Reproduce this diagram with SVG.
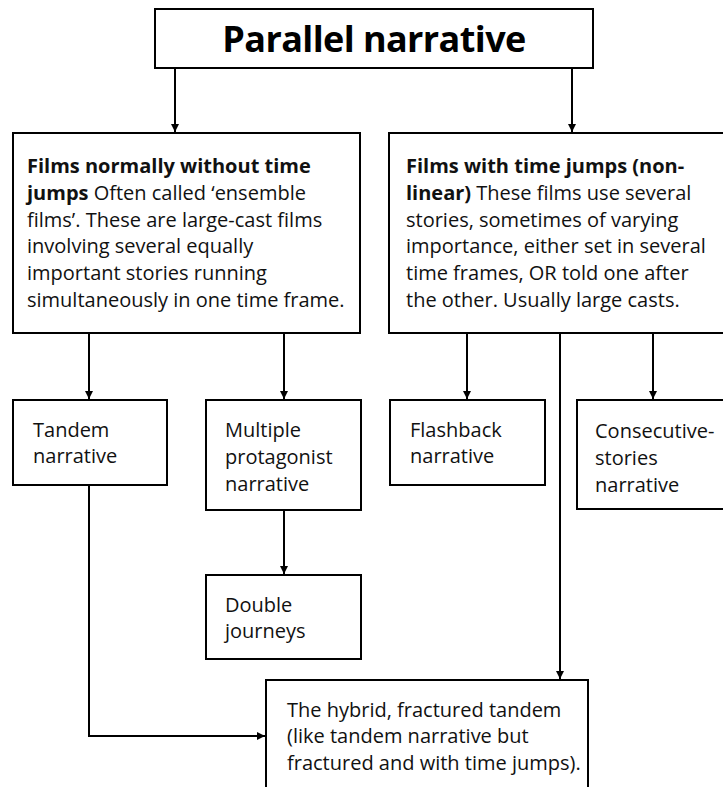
<svg xmlns="http://www.w3.org/2000/svg" width="723" height="787" viewBox="0 0 723 787">
  <defs>
    <marker id="arr" viewBox="0 0 10 10" refX="10" refY="5" markerWidth="4" markerHeight="4" markerUnits="strokeWidth" orient="auto">
      <path d="M0,0 L10,5 L0,10 z" fill="#000"/>
    </marker>
    <style>
      rect { fill: #fff; stroke: #000; stroke-width: 2; }
      .t { font-family: "Open Sans", "Liberation Sans", sans-serif; font-size: 20px; fill: #111; }
      .b { font-weight: bold; }
      .title { font-family: "Open Sans", "Liberation Sans", sans-serif; font-size: 36px; font-weight: bold; letter-spacing: -0.6px; fill: #000; }
      #connectors path { fill: none; stroke: #000; stroke-width: 2; }
      #connectors .a { marker-end: url(#arr); }
    </style>
  </defs>
  <rect x="0" y="0" width="723" height="787" style="fill:#fff;stroke:none"/>

  <g id="connectors">
    <path class="a" d="M175,68 V132"/>
    <path class="a" d="M572,68 V132"/>
    <path class="a" d="M89,333 V399"/>
    <path class="a" d="M284,333 V399"/>
    <path class="a" d="M467,333 V399"/>
    <path class="a" d="M653,333 V399"/>
    <path class="a" d="M560,333 V679"/>
    <path class="a" d="M284,510 V574"/>
    <path class="a" d="M89,485 V736 H265"/>
  </g>

  <g id="title">
    <rect x="155" y="9" width="438" height="59"/>
    <text class="title" x="374" y="52" text-anchor="middle">Parallel narrative</text>
  </g>

  <g id="no-time-jumps">
    <rect x="13" y="133" width="347" height="200"/>
    <text class="t">
      <tspan x="27" y="173" class="b">Films normally without time</tspan>
      <tspan x="27" y="200"><tspan class="b">jumps</tspan> Often called ‘ensemble</tspan>
      <tspan x="27" y="227">films’. These are large-cast films</tspan>
      <tspan x="27" y="253">involving several equally</tspan>
      <tspan x="27" y="280">important stories running</tspan>
      <tspan x="27" y="307">simultaneously in one time frame.</tspan>
    </text>
  </g>

  <g id="time-jumps">
    <rect x="389" y="133" width="340" height="200"/>
    <text class="t">
      <tspan x="406" y="173" class="b">Films with time jumps (non-</tspan>
      <tspan x="406" y="200"><tspan class="b">linear)</tspan> These films use several</tspan>
      <tspan x="406" y="227">stories, sometimes of varying</tspan>
      <tspan x="406" y="253">importance, either set in several</tspan>
      <tspan x="406" y="280">time frames, OR told one after</tspan>
      <tspan x="406" y="307">the other. Usually large casts.</tspan>
    </text>
  </g>

  <g id="tandem">
    <rect x="13" y="400" width="154" height="85"/>
    <text class="t"><tspan x="33" y="437">Tandem</tspan><tspan x="33" y="463">narrative</tspan></text>
  </g>

  <g id="multiple">
    <rect x="206" y="400" width="155" height="110"/>
    <text class="t"><tspan x="225" y="437">Multiple</tspan><tspan x="225" y="464">protagonist</tspan><tspan x="225" y="491">narrative</tspan></text>
  </g>

  <g id="flashback">
    <rect x="390" y="400" width="155" height="85"/>
    <text class="t"><tspan x="410" y="437">Flashback</tspan><tspan x="410" y="463">narrative</tspan></text>
  </g>

  <g id="consecutive">
    <rect x="577" y="400" width="152" height="109"/>
    <text class="t"><tspan x="595" y="438">Consecutive-</tspan><tspan x="595" y="465">stories</tspan><tspan x="595" y="492">narrative</tspan></text>
  </g>

  <g id="double">
    <rect x="206" y="575" width="155" height="84"/>
    <text class="t"><tspan x="225" y="612">Double</tspan><tspan x="225" y="638">journeys</tspan></text>
  </g>

  <g id="hybrid">
    <rect x="266" y="680" width="322" height="120"/>
    <text class="t"><tspan x="287" y="717">The hybrid, fractured tandem</tspan><tspan x="287" y="743">(like tandem narrative but</tspan><tspan x="287" y="770">fractured and with time jumps).</tspan></text>
  </g>
</svg>
